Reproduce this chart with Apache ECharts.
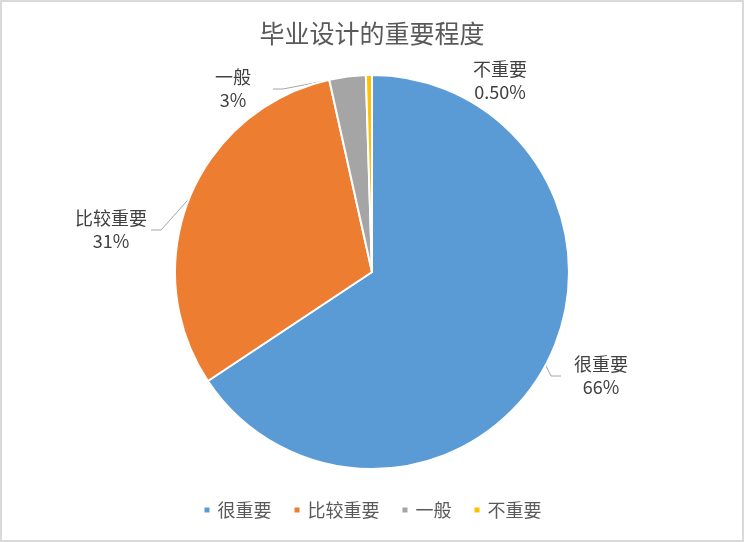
<!DOCTYPE html>
<html>
<head>
<meta charset="utf-8">
<style>
  html, body { margin: 0; padding: 0; background: #fff; }
  #chart { width: 744px; height: 542px; }
</style>
<script src="https://cdn.jsdelivr.net/npm/echarts@6/dist/echarts.min.js"></script>
</head>
<body>
<div id="chart"></div>
<script>
// Survey answers: how important the graduation project is
const categories = ['很重要', '比较重要', '一般', '不重要'];
const shares = [66, 31, 3, 0.5];          // percent of respondents
const sliceColors = ['#5B9BD5', '#ED7D31', '#A5A5A5', '#FFC000'];

const FONT = '"Noto Sans CJK SC", "Noto Sans", sans-serif';

// Label block centres, as offsets from the pie centre
const CENTER = [372, 272];
const labelOffsets = [[229, 104], [-261, -42], [-139, -183], [128, -191]];

function pctText(v) {
  return (v < 1 ? v.toFixed(2) : String(v)) + '%';
}

const chart = echarts.init(document.getElementById('chart'), null, { renderer: 'canvas' });

chart.setOption({
  animation: false,
  backgroundColor: '#ffffff',
  title: {
    text: '毕业设计的重要程度',
    left: 'center',
    top: 16,
    textStyle: { fontFamily: FONT, fontSize: 25, fontWeight: 'normal', color: '#595959' }
  },
  legend: {
    data: categories,
    bottom: 18,
    left: 'center',
    icon: 'rect',
    itemWidth: 7,
    itemHeight: 7,
    itemGap: 21,
    textStyle: { fontFamily: FONT, fontSize: 18, color: '#595959', padding: [0, 0, 0, 2] }
  },
  graphic: [{
    type: 'rect',
    silent: true,
    shape: { x: 1, y: 1, width: 742, height: 540 },
    style: { fill: null, stroke: '#D9D9D9', lineWidth: 2 }
  }],
  series: [{
    type: 'pie',
    center: CENTER,
    radius: 197,
    startAngle: 90,
    clockwise: true,
    avoidLabelOverlap: false,
    itemStyle: { borderColor: '#ffffff', borderWidth: 2 },
    label: {
      show: true,
      position: 'outside',
      formatter: p => '{n|' + p.name + '}\n{v|' + pctText(p.value) + '}',
      rich: {
        n: { fontFamily: FONT, fontSize: 18, color: '#404040', width: 80, align: 'center', lineHeight: 23 },
        v: { fontFamily: FONT, fontSize: 18, color: '#404040', width: 80, align: 'center', lineHeight: 23 }
      }
    },
    labelLine: {
      show: true,
      length: 10,
      length2: 10,
      lineStyle: { color: '#A6A6A6', width: 1 }
    },
    labelLayout: params => {
      const off = labelOffsets[params.dataIndex];
      return {
        x: CENTER[0] + off[0],
        y: CENTER[1] + off[1],
        align: 'center',
        verticalAlign: 'middle'
      };
    },
    data: categories.map((name, i) => ({
      name: name,
      value: shares[i],
      itemStyle: { color: sliceColors[i] },
      labelLine: { show: i !== 3 }
    }))
  }]
});
</script>
</body>
</html>
